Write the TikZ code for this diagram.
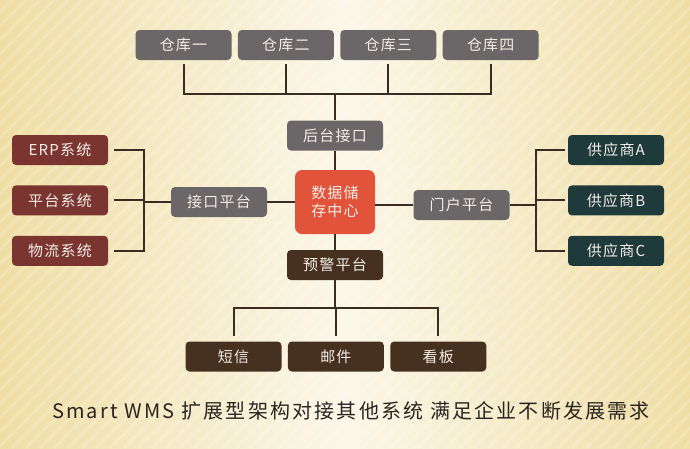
\documentclass[tikz,border=0pt]{standalone}
\usepackage{fontspec}
\setmainfont{Noto Sans CJK SC}
\newfontfamily\boxfont[LetterSpace=8]{Noto Sans CJK SC}
\newfontfamily\captionfont[LetterSpace=11]{Noto Sans CJK SC}
\usepackage{tikz}
\usetikzlibrary{positioning}
\definecolor{bgedge}{HTML}{EFDDA3}
\definecolor{bgmid}{HTML}{FBF7E8}
\definecolor{boxgray}{HTML}{6B6667}
\definecolor{hubred}{HTML}{E2533B}
\definecolor{sysred}{HTML}{7B3530}
\definecolor{suppteal}{HTML}{1F3A3A}
\definecolor{alertbrown}{HTML}{46301F}
\definecolor{linkbrown}{HTML}{3A2C22}
\definecolor{captiontext}{HTML}{2A2420}
\definecolor{boxtext}{HTML}{F3EEE7}

\begin{document}
\begin{tikzpicture}[x=1pt, y=-1pt,
    every node/.style={
    align=center,
    inner sep=0pt,
    text=boxtext,
    rounded corners=4pt,
    font=\boxfont\fontsize{15}{18}\selectfont},
    box/.style={fill=boxgray, minimum width=96pt, minimum height=30pt},
    link/.style={draw=linkbrown, line width=2pt}]
    \useasboundingbox (0,0) rectangle (690,448);
    % background
    \shade[left color=bgedge, right color=bgedge, middle color=bgmid] (0,0) rectangle (690,448);
    \begin{scope}
        \clip (0,0) rectangle (690,448);
        \foreach \i in {-450,-436,...,700}
            \draw[white, opacity=0.2, line width=3pt] (\i,448) -- ++(448,-448);
    \end{scope}
    % warehouses
    \node[box] (wh1) at (183.5,45) {仓库一};
    \node[box, right=6pt of wh1] (wh2) {仓库二};
    \node[box, right=6pt of wh2] (wh3) {仓库三};
    \node[box, right=6pt of wh3] (wh4) {仓库四};
    % centre column
    \node[box] (backif) at (335,135.5) {后台接口};
    \node[box, fill=hubred, minimum width=80pt, minimum height=64pt, rounded corners=7pt] (datactr) at (335,202) {数据储\\存中心};
    \node[box, fill=alertbrown] (alert) at (335,265) {预警平台};
    \node[box] (ifplat) at (219,202) {接口平台};
    \node[box] (portal) at (461.5,205) {门户平台};
    % left systems
    \node[box, fill=sysred] (erp) at (60,150) {ERP系统};
    \node[box, fill=sysred, below=20pt of erp] (plat) {平台系统};
    \node[box, fill=sysred, below=20pt of plat] (logi) {物流系统};
    % suppliers
    \node[box, fill=suppteal] (supA) at (616,150) {供应商A};
    \node[box, fill=suppteal, below=20pt of supA] (supB) {供应商B};
    \node[box, fill=suppteal, below=20pt of supB] (supC) {供应商C};
    % outputs
    \node[box, fill=alertbrown] (sms) at (233.5,356.5) {短信};
    \node[box, fill=alertbrown, right=6pt of sms] (mail) {邮件};
    \node[box, fill=alertbrown, right=6pt of mail] (board) {看板};
    % caption
    \node[text=captiontext, font=\captionfont\fontsize{20}{24}\selectfont] (caption) at (351,411)
        {Smart WMS 扩展型架构对接其他系统 满足企业不断发展需求};
    % buses
    \coordinate (topbus) at (335,94);
    \coordinate (lbus) at (144,202);
    \coordinate (rbus) at (536,205);
    \coordinate (bbus) at (335,308);
    % connectors
    \foreach \w in {wh1,wh2,wh3,wh4}
        \draw[link, shorten <=4pt] (\w.south) |- (topbus);
    \draw[link] (topbus) -- (backif);
    \draw[link] (backif) -- (datactr);
    \draw[link] (datactr) -- (alert);
    \draw[link] (ifplat) -- (datactr);
    \draw[link] (portal.west) -- (portal.west -| datactr.east);
    \foreach \s in {erp,plat,logi}
        \draw[link, shorten <=6pt] (\s.east) -| (lbus);
    \draw[link] (lbus) -- (ifplat);
    \draw[link] (portal) -- (rbus);
    \foreach \s in {supA,supB,supC}
        \draw[link, shorten >=3pt] (rbus) |- (\s.west);
    \draw[link] (alert) -- (bbus);
    \foreach \s in {sms,mail,board}
        \draw[link, shorten >=5pt] (bbus) -| (\s.north);
\end{tikzpicture}
\end{document}
